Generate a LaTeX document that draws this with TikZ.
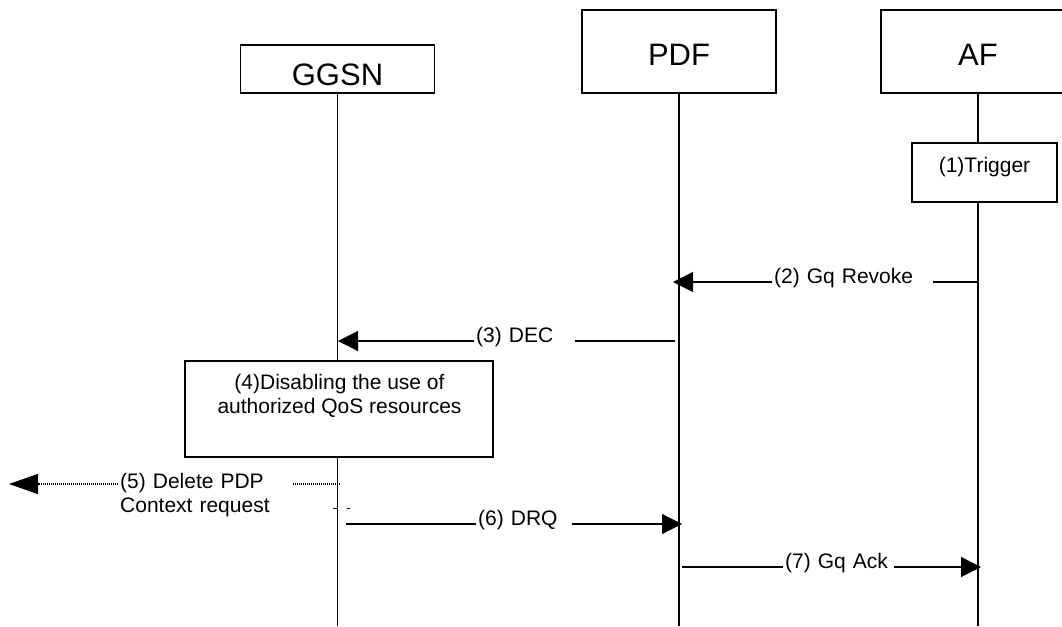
\documentclass[tikz,border=0pt]{standalone}
\usepackage{fontspec}
\setmainfont{Liberation Sans}
\usetikzlibrary{arrows.meta}
\begin{document}
\begin{tikzpicture}[x=1pt,y=-1pt,
  ent/.style={draw, line width=1.2pt, fill=white, font=\fontsize{31}{36}\selectfont, inner sep=0pt, minimum width=194pt},
  actbox/.style={draw, line width=1.2pt, fill=white, inner sep=0pt, font=\fontsize{21}{24}\selectfont},
  txt/.style={font=\fontsize{21}{24}\selectfont, inner xsep=2pt, inner ysep=0pt},
  msglabel/.style={txt, fill=white, anchor=base west, align=left},
  life/.style={line width=1.2pt},
  msg/.style={line width=1.2pt, -{Triangle[length=20pt,width=20pt]}},
  dotmsg/.style={line width=1.2pt, dash pattern=on 1pt off 1pt, -{Triangle[length=29pt,width=20pt]}},
]
\clip (0,0) rectangle (1062,626);
% entities
\node[ent, text height=40pt, text depth=8pt] (ggsn) at (337.5,69) {GGSN};
\node[ent, text height=56pt, text depth=27pt] (pdf) at (679,51.5) {PDF};
\node[ent, text height=56pt, text depth=27pt] (af) at (978,51.5) {AF};
% lifelines
\coordinate (ggsnend) at (337.5,626);
\coordinate (pdfend) at (679,626);
\coordinate (afend) at (978,626);
\draw[life, line width=1.6pt] (ggsn.south) -- (ggsnend);
\draw[life] (pdf.south) -- (pdfend);
\draw[life] (af.south) -- (afend);
% activity boxes
\node[actbox, minimum width=145pt, text height=29pt, text depth=30pt] (trig) at (984.5,172.5) {(1)Trigger};
\node[actbox, minimum width=308pt, minimum height=96pt] (disab) at (339,409) {};
\node[txt, anchor=north, align=center, inner sep=0pt] (disabtxt) at (339.5,373.7) {(4)Disabling the use of\\authorized QoS resources};
% (2) Gq Revoke
\coordinate (m2s) at (978,282);
\coordinate (m2e) at (673,282);
\draw[msg] (m2s) -- (m2e);
\node[msglabel, text width=157pt] (m2l) at (772,283.5) {(2) Gq Revoke};
% (3) DEC
\coordinate (m3s) at (675,341);
\coordinate (m3e) at (338,341);
\draw[msg] (m3s) -- (m3e);
\node[msglabel, text width=97pt] (m3l) at (474,342.5) {(3) DEC};
% (5) Delete PDP Context request
\coordinate (m5s) at (340,484);
\coordinate (m5e) at (9,484);
\draw[dotmsg] (m5s) -- (m5e);
\node[txt, fill=white, anchor=north west, align=left, text width=171pt] (m5l) at (118,473.5) {(5) Delete PDP\\Context request};
\coordinate (fragA) at (333,508);
\coordinate (fragB) at (349.5,508);
\draw[line width=0.8pt, dash pattern=on 3.5pt off 10pt] (fragA) -- (fragB);
% (6) DRQ
\coordinate (m6s) at (346,524);
\coordinate (m6e) at (682,524);
\draw[msg] (m6s) -- (m6e);
\node[msglabel, text width=92pt] (m6l) at (476,525.5) {(6) DRQ};
% (7) Gq Ack
\coordinate (m7s) at (682,567);
\coordinate (m7e) at (981,567);
\draw[msg] (m7s) -- (m7e);
\node[msglabel, text width=107pt] (m7l) at (783,568.5) {(7) Gq Ack};
\end{tikzpicture}
\end{document}
